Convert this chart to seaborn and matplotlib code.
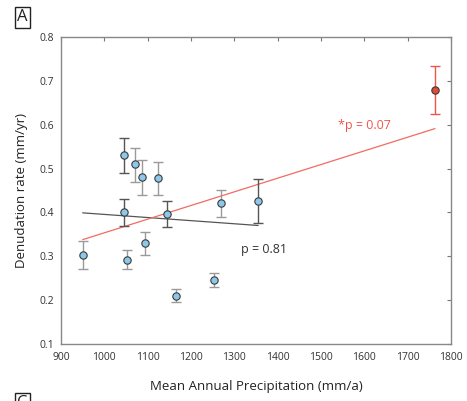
import numpy as np
import pandas as pd
import matplotlib
matplotlib.use("Agg")
import matplotlib.pyplot as plt
import seaborn as sns

# data
precip = [950, 1045, 1045, 1052, 1071, 1088, 1094, 1124, 1145, 1165, 1252, 1270, 1355, 1763]
rate = [0.303, 0.531, 0.401, 0.292, 0.510, 0.481, 0.330, 0.478, 0.396, 0.209, 0.246, 0.421, 0.426, 0.679]
err_lo = [0.033, 0.041, 0.031, 0.022, 0.040, 0.041, 0.027, 0.038, 0.029, 0.014, 0.017, 0.031, 0.051, 0.054]
err_hi = [0.032, 0.039, 0.029, 0.023, 0.038, 0.039, 0.025, 0.037, 0.029, 0.016, 0.016, 0.031, 0.050, 0.054]
bar_shade = ['light', 'dark', 'dark', 'light', 'light', 'light', 'light', 'light', 'dark', 'light', 'light', 'light', 'dark', 'red']

df = pd.DataFrame({'precip': precip, 'rate': rate, 'lo': err_lo, 'hi': err_hi, 'shade': bar_shade})

sns.set_style("white")
plt.rcParams['font.family'] = ['Open Sans', 'DejaVu Sans']

fig = plt.figure(figsize=(4.67, 4.01), dpi=100)
ax = fig.add_axes([0.1306, 0.1421, 0.8351, 0.7656])

bar_colors = {'light': '#9a9a9a', 'dark': '#555555', 'red': '#f0554a'}
for shade, grp in df.groupby('shade'):
    ax.errorbar(grp['precip'], grp['rate'], yerr=[grp['lo'], grp['hi']], fmt='none',
                ecolor=bar_colors[shade], elinewidth=1.0, capsize=3.5, capthick=1.0, zorder=2)

# regression lines
sub = df[df['shade'] != 'red']
m1, b1 = np.polyfit(sub['precip'], sub['rate'], 1)
xs1 = np.array([sub['precip'].min(), sub['precip'].max()])
ax.plot(xs1, m1 * xs1 + b1, color='#555555', lw=0.9, zorder=1)

m2, b2 = np.polyfit(df['precip'], df['rate'], 1)
xs2 = np.array([df['precip'].min(), df['precip'].max()])
ax.plot(xs2, m2 * xs2 + b2, color='#f26b63', lw=0.9, zorder=1)

sns.scatterplot(data=sub, x='precip', y='rate', s=28, color='#8cc8ea', edgecolor='#3a3a3a',
                linewidth=0.8, ax=ax, zorder=3)
red = df[df['shade'] == 'red']
sns.scatterplot(data=red, x='precip', y='rate', s=28, color='#e04a36', edgecolor='#3a3a3a',
                linewidth=0.8, ax=ax, zorder=3)

ax.set_xlim(900, 1800)
ax.set_ylim(0.1, 0.8)
ax.set_xticks(np.arange(900, 1801, 100))
ax.set_yticks(np.round(np.arange(0.1, 0.81, 0.1), 1))
ax.set_yticklabels([f'{v:.1f}' for v in np.arange(0.1, 0.81, 0.1)])
ax.tick_params(direction='in', length=3, width=0.8, color='#777777', labelsize=7.5,
               top=True, right=True, labelcolor='#333333')
ax.tick_params(axis='x', pad=6)
ax.tick_params(axis='y', pad=5)
for sp in ax.spines.values():
    sp.set_color('#888888')
    sp.set_linewidth(1.0)

ax.set_xlabel('Mean Annual Precipitation (mm/a)', fontsize=9.5, color='#222222', labelpad=12)
ax.set_ylabel('Denudation rate (mm/yr)', fontsize=9.5, color='#222222', labelpad=8)

ax.text(1540, 0.591, '*p = 0.07', color='#f0554a', fontsize=9)
ax.text(1315, 0.307, 'p = 0.81', color='#333333', fontsize=9)

box = dict(boxstyle='square,pad=0.15', fc='white', ec='#222222', lw=1.0)
fig.text(0.037, 0.957, 'A', fontsize=12, color='#222222', bbox=box, va='center')
fig.text(0.037, -0.005, 'C', fontsize=12, color='#222222', bbox=box, va='center')

fig.savefig('out.png', dpi=100)
